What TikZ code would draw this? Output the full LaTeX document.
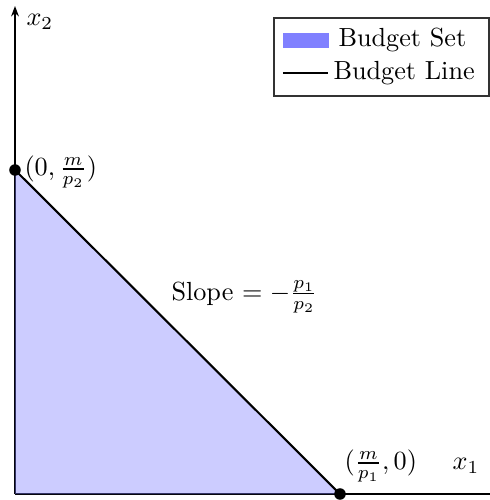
\documentclass[tikz,border=0pt]{standalone}
\usetikzlibrary{arrows.meta}
\begin{document}
\begin{tikzpicture}[x=0.3817pt,y=-0.3817pt,
  axisline/.style={draw=black,line width=0.45pt},
  budgetline/.style={draw=black,line width=0.8pt},
  budgetset/.style={fill=blue!50,fill opacity=0.4},
  dotmark/.style={circle,fill=black,inner sep=0pt,minimum size=4.4pt},
  lbl/.style={inner sep=0pt,font=\normalsize}]
\useasboundingbox (0,0) rectangle (490,500);
% axes
\coordinate (O) at (15,494);
\coordinate (ytop) at (15,6);
\coordinate (xend) at (492,494);
\draw[axisline,-{Stealth[length=4pt,width=3pt]}] (O) -- (ytop);
\draw[axisline] (O) -- (xend);
% budget set
\coordinate (A) at (15,170);
\coordinate (B) at (340,494);
\path[budgetset] (A) -- (B) -- (O) -- cycle;
\draw[budgetline] (A) -- (B);
\node[dotmark] (dA) at (A) {};
\node[dotmark] (dB) at (B) {};
% labels
\node[lbl,anchor=west] (lx2) at (26,22) {$x_2$};
\node[lbl] (lx1) at (466,466) {$x_1$};
\node[lbl,anchor=west] (lA) at (24,172) {$(0,\frac{m}{p_2})$};
\node[lbl,anchor=west] (lB) at (344,466) {$(\frac{m}{p_1},0)$};
\node[lbl,anchor=west] (lslope) at (171,297) {Slope $=-\frac{p_1}{p_2}$};
% legend
\node[draw=black!80,line width=0.4pt,inner sep=0pt,minimum width=82.07pt,minimum height=29.77pt] (legend) at (381.5,57) {};
\fill[blue!50] (283,33) rectangle (329,48);
\coordinate (lgA) at (283,73);
\coordinate (lgB) at (328,73);
\draw[line width=0.4pt] (lgA) -- (lgB);
\node[lbl,anchor=west] (lg1) at (338,40) {Budget Set};
\node[lbl,anchor=west] (lg2) at (333,73) {Budget Line};
\end{tikzpicture}
\end{document}
